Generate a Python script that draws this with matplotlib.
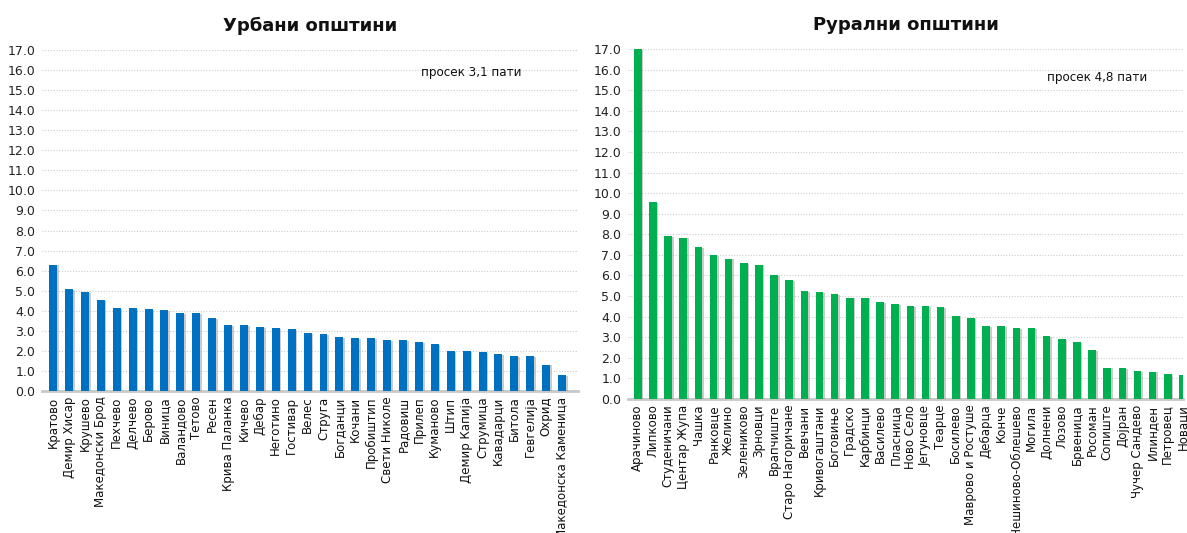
import matplotlib
matplotlib.use("Agg")
import matplotlib.pyplot as plt
import matplotlib.patheffects as pe
import numpy as np

urban_names = ["Кратово", "Демир Хисар", "Крушево", "Македонски Брод", "Пехчево", "Делчево",
               "Берово", "Виница", "Валандово", "Тетово", "Ресен", "Крива Паланка", "Кичево",
               "Дебар", "Неготино", "Гостивар", "Велес", "Струга", "Богданци", "Кочани",
               "Пробиштип", "Свети Николе", "Радовиш", "Прилеп", "Куманово", "Штип",
               "Демир Капија", "Струмица", "Кавадарци", "Битола", "Гевгелија", "Охрид",
               "Македонска Каменица"]
urban_vals = [6.3, 5.07, 4.95, 4.55, 4.15, 4.12, 4.08, 4.03, 3.9, 3.87, 3.65, 3.3, 3.28,
              3.2, 3.13, 3.1, 2.88, 2.83, 2.68, 2.63, 2.62, 2.55, 2.52, 2.45, 2.35, 1.98,
              1.97, 1.95, 1.83, 1.75, 1.72, 1.32, 0.8]

rural_names = ["Арачиново", "Липково", "Студеничани", "Центар Жупа", "Чашка", "Ранковце",
               "Желино", "Зелениково", "Зрновци", "Врапчиште", "Старо Нагоричане", "Вевчани",
               "Кривогаштани", "Боговиње", "Градско", "Карбинци", "Василево", "Пласница",
               "Ново Село", "Јегуновце", "Теарце", "Босилево", "Маврово и Ростуше", "Дебарца",
               "Конче", "Чешиново-Облешево", "Могила", "Долнени", "Лозово", "Брвеница",
               "Росоман", "Сопиште", "Дојран", "Чучер Сандево", "Илинден", "Петровец", "Новаци"]
rural_vals = [17.0, 9.55, 7.9, 7.84, 7.36, 6.99, 6.82, 6.61, 6.53, 6.02, 5.76, 5.24, 5.21,
              5.11, 4.93, 4.93, 4.7, 4.61, 4.52, 4.52, 4.45, 4.05, 3.95, 3.56, 3.55, 3.43,
              3.43, 3.07, 2.93, 2.75, 2.39, 1.53, 1.5, 1.36, 1.33, 1.2, 1.18]

titles = ["Урбани општини", "Рурални општини"]
notes = ["просек 3,1 пати", "просек 4,8 пати"]
yticks = np.arange(0, 18, 1)

plt.rcParams['font.family'] = ['DejaVu Sans']

W, H = 1187, 533
fig = plt.figure(figsize=(W / 100, H / 100), dpi=100)

def px_axes(l, r, top, bot):
    return fig.add_axes([l / W, 1 - bot / H, (r - l) / W, (bot - top) / H])

ax1 = px_axes(42, 578, 50, 391)
ax2 = px_axes(628, 1183, 49, 399)

shadow = [pe.SimplePatchShadow(offset=(1.2, -0.6), shadow_rgbFace='#999999', alpha=0.5), pe.Normal()]

def draw(ax, names, vals, color, title, note, note_xy, xlim):
    x = np.arange(len(names))
    ax.bar(x, vals, width=0.5, color=color, zorder=3, path_effects=shadow)
    ax.set_xlim(*xlim)
    ax.set_ylim(0, 17)
    ax.set_yticks(yticks)
    ax.set_yticklabels([f"{v:.1f}" for v in yticks], fontsize=9, color='#222222')
    ax.set_xticks(x)
    ax.set_xticklabels(names, rotation=90, fontsize=8.5, color='#111111')
    ax.tick_params(axis='both', length=0, pad=4)
    ax.tick_params(axis='y', pad=5)
    ax.yaxis.grid(True, color='#cccccc', linestyle=(0, (1, 1.5)), linewidth=0.8, zorder=0)
    for s in ['top', 'right', 'left']:
        ax.spines[s].set_visible(False)
    ax.spines['bottom'].set_color('#c8c8c8')
    ax.spines['bottom'].set_linewidth(2)
    ax.set_title(title, fontsize=13, fontweight='bold', pad=14, color='#111111')
    ax.text(note_xy[0], note_xy[1], note, transform=ax.transAxes, fontsize=9.5,
            ha='center', va='center', color='#111111', fontstretch='condensed',
            family=['Liberation Sans Narrow', 'DejaVu Sans'])

draw(ax1, urban_names, urban_vals, '#0070C0', titles[0], notes[0], (0.80, 0.935), (-0.7, 33.0))
draw(ax2, rural_names, rural_vals, '#00B050', titles[1], notes[1], (0.845, 0.918), (-0.65, 35.85))

fig.savefig("out.png", dpi=100)
